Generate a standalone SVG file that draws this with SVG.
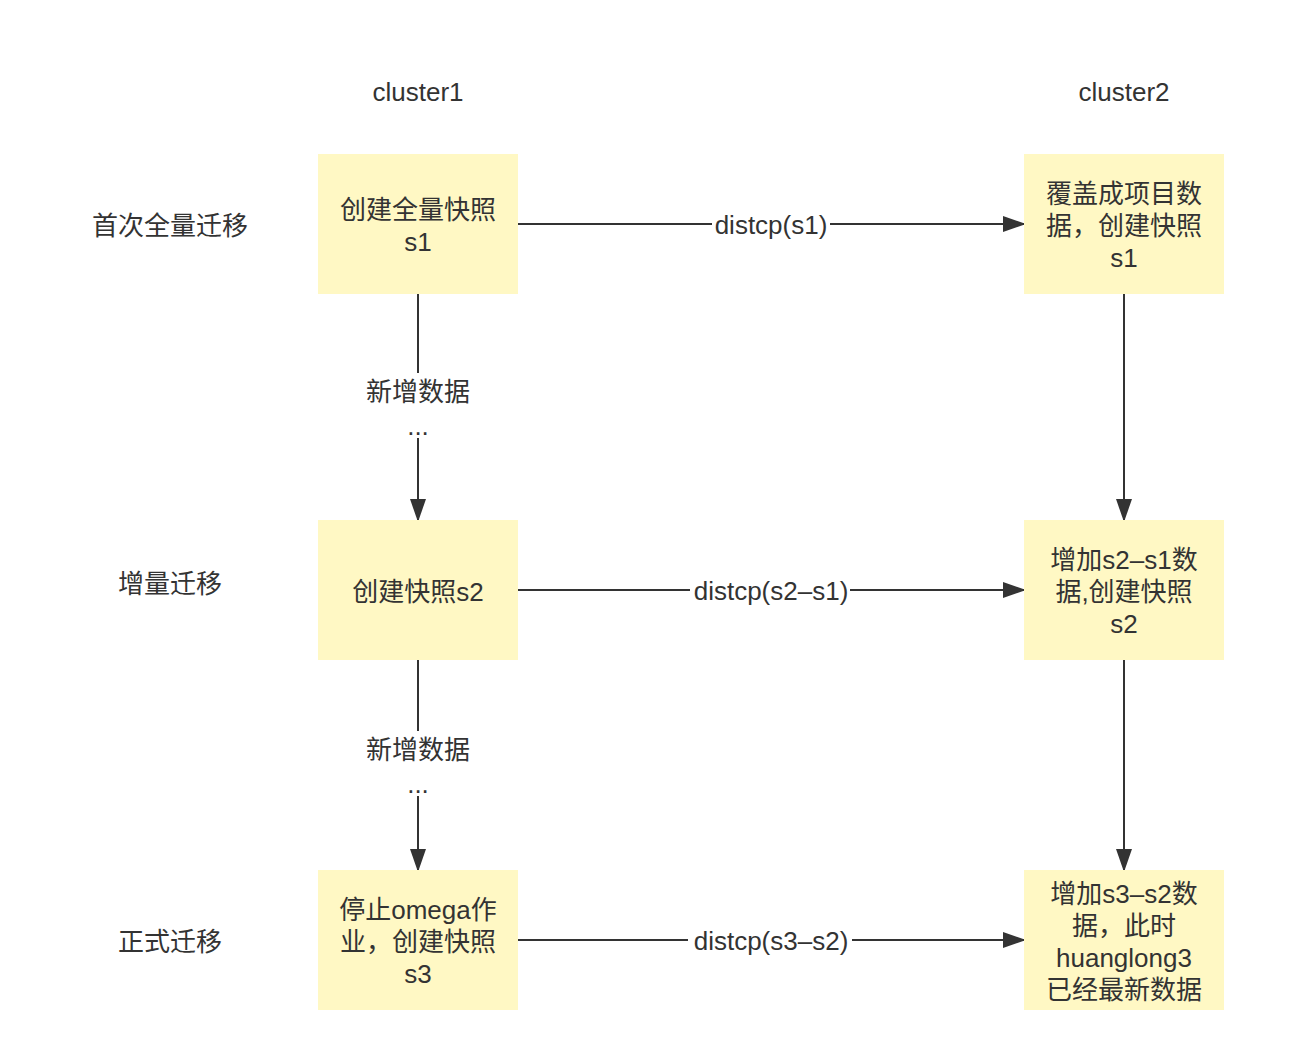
<svg xmlns="http://www.w3.org/2000/svg" width="1294" height="1059" viewBox="0 0 1294 1059">
<style>
text{font-family:"Liberation Sans","Noto Sans CJK SC",sans-serif;font-size:26px;fill:#333;text-anchor:middle}
.box{fill:#fff8c4;stroke:none}
.edge{stroke:#333;stroke-width:2;fill:none;marker-end:url(#arr)}
.lbg{fill:#fff}
</style>
<defs>
<marker id="arr" viewBox="0 0 23 16" refX="23" refY="8" markerWidth="23" markerHeight="16" markerUnits="userSpaceOnUse" orient="auto">
<path d="M0,0 L23,8 L0,16 Z" fill="#333"/>
</marker>
</defs>
<rect width="1294" height="1059" fill="#fff"/>
<g id="headers">
<text x="418" y="101">cluster1</text>
<text x="1124" y="101">cluster2</text>
</g>
<g id="row-labels">
<text x="170" y="235">首次全量迁移</text>
<text x="170" y="593">增量迁移</text>
<text x="170" y="951">正式迁移</text>
</g>
<g id="connectors">
<path class="edge" d="M518,224 H1026"/>
<rect class="lbg" x="712" y="210" width="118" height="30"/>
<text x="771" y="234">distcp(s1)</text>
<path class="edge" d="M518,590 H1026"/>
<rect class="lbg" x="690" y="576" width="160" height="30"/>
<text x="771" y="600">distcp(s2–s1)</text>
<path class="edge" d="M518,940 H1026"/>
<rect class="lbg" x="688" y="926" width="164" height="30"/>
<text x="771" y="950">distcp(s3–s2)</text>
<path class="edge" d="M418,294 V522"/>
<rect class="lbg" x="362" y="373" width="112" height="65"/>
<text x="418" y="401">新增数据</text>
<text x="418" y="435">...</text>
<path class="edge" d="M418,660 V872"/>
<rect class="lbg" x="362" y="731" width="112" height="65"/>
<text x="418" y="759">新增数据</text>
<text x="418" y="793">...</text>
<path class="edge" d="M1124,294 V522"/>
<path class="edge" d="M1124,660 V872"/>
</g>
<g id="n-c1-s1">
<rect class="box" x="318" y="154" width="200" height="140"/>
<text x="418" y="219">创建全量快照</text>
<text x="418" y="251">s1</text>
</g>
<g id="n-c2-s1">
<rect class="box" x="1024" y="154" width="200" height="140"/>
<text x="1124" y="203">覆盖成项目数</text>
<text x="1124" y="235">据，创建快照</text>
<text x="1124" y="267">s1</text>
</g>
<g id="n-c1-s2">
<rect class="box" x="318" y="520" width="200" height="140"/>
<text x="418" y="601">创建快照s2</text>
</g>
<g id="n-c2-s2">
<rect class="box" x="1024" y="520" width="200" height="140"/>
<text x="1124" y="569">增加s2–s1数</text>
<text x="1124" y="601">据,创建快照</text>
<text x="1124" y="633">s2</text>
</g>
<g id="n-c1-s3">
<rect class="box" x="318" y="870" width="200" height="140"/>
<text x="418" y="919">停止omega作</text>
<text x="418" y="951">业，创建快照</text>
<text x="418" y="983">s3</text>
</g>
<g id="n-c2-s3">
<rect class="box" x="1024" y="870" width="200" height="140"/>
<text x="1124" y="903">增加s3–s2数</text>
<text x="1124" y="935">据，此时</text>
<text x="1124" y="967">huanglong3</text>
<text x="1124" y="999">已经最新数据</text>
</g>
</svg>
